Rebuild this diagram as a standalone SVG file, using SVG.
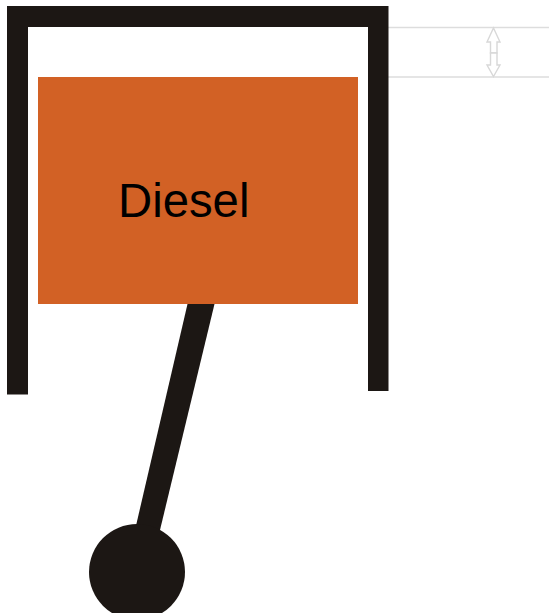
<svg xmlns="http://www.w3.org/2000/svg" width="549" height="613" viewBox="0 0 549 613">
<style>
.dark{fill:#1c1714}
.guide{stroke:#dddddd;stroke-width:1.4;fill:none}
.arrow{stroke:#d8d8d8;stroke-width:1.4;fill:#fff;stroke-linejoin:miter}
.label{font-family:"Liberation Sans",Arial,sans-serif;font-size:47.300px;fill:#000}
</style>
<rect width="549" height="613" fill="#fff"/>
<g id="guides">
<line class="guide" x1="388" y1="27.500" x2="549" y2="27.500"/>
<line class="guide" x1="388" y1="77" x2="549" y2="77"/>
</g>
<g id="gap-arrow">
<path class="arrow" d="M493.500 28L500 42H497V53H490.500V42H487Z"/>
<path class="arrow" d="M493.500 76.500L500 65H497V53H490.500V65H487Z"/>
</g>
<g id="cylinder">
<path class="dark" d="M7 6H388.500V391H368V27H28V394.500H7Z"/>
</g>
<g id="connecting-rod">
<path class="dark" d="M187.500 304H214.500L160 530H135Z"/>
<circle class="dark" cx="137" cy="572" r="48"/>
</g>
<g id="piston">
<rect x="38" y="77" width="320" height="227" fill="#d26125"/>
<text class="label" x="118" y="216.500">Diesel</text>
</g>
</svg>
